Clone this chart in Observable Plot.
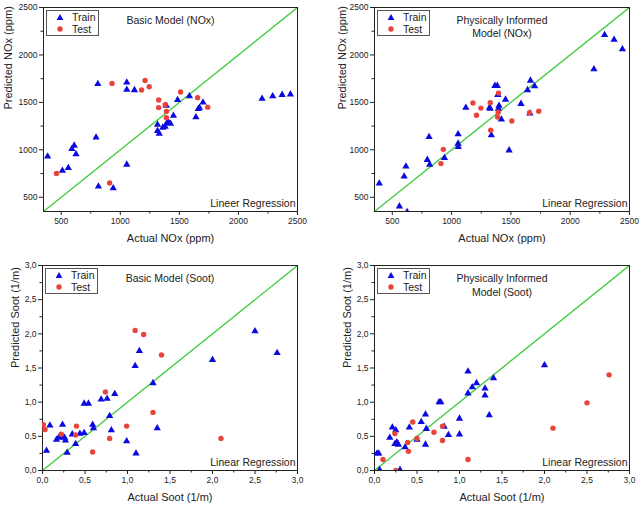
<!DOCTYPE html>
<html><head><meta charset="utf-8">
<script src="https://cdn.jsdelivr.net/npm/d3@7"></script>
<script src="https://cdn.jsdelivr.net/npm/@observablehq/plot@0.6"></script>
<style>
body{margin:0;background:#fff;font-family:"Liberation Sans",Arial,sans-serif;}
#wrap{position:relative;width:640px;height:505px;overflow:hidden;background:#fff;}
.panel{position:absolute;}
.legend{position:absolute;border:1px solid #555;background:#fff;box-sizing:border-box;}
</style></head><body><div id="wrap"></div>
<script>
// ---- data: [actual, predicted] pairs ----
const basicNoxTrain = [[385,930],[510,780],[560,810],[590,1010],[610,1045],[625,955],[795,1130],[810,1695],[815,615],[940,595],[1055,1710],[1055,1633],[1055,845],[1120,1630],[1315,1265],[1315,1200],[1330,1170],[1360,1235],[1380,1245],[1390,1465],[1395,1285],[1410,1285],[1425,1275],[1450,1360],[1485,1525],[1585,1565],[1640,1345],[1660,1430],[1670,1445],[1700,1500],[2200,1540],[2290,1565],[2370,1580],[2440,1585]];
const basicNoxTest = [[460,750],[910,650],[930,1700],[1180,1630],[1210,1730],[1245,1665],[1325,1525],[1325,1445],[1380,1475],[1390,1405],[1390,1338],[1510,1610],[1655,1550],[1740,1450]];
const physNoxTrain = [[390,645],[560,405],[625,345],[600,720],[615,825],[795,895],[810,1135],[815,845],[940,915],[1055,1165],[1055,1066],[1057,1031],[1120,1445],[1320,1445],[1325,1435],[1335,1155],[1365,1675],[1385,1675],[1390,1580],[1395,1435],[1400,1465],[1420,1320],[1455,1530],[1485,995],[1585,1485],[1640,1630],[1665,1730],[1660,1385],[1700,1670],[2200,1850],[2290,2210],[2370,2160],[2440,2060]];
const physNoxTest = [[910,855],[930,1005],[1180,1493],[1210,1364],[1247,1440],[1326,1497],[1330,1206],[1388,1346],[1393,1397],[1396,1598],[1508,1304],[1657,1392],[1735,1406]];
const basicSootTrain = [[0.047,0.29],[0.087,0.66],[0.165,0.45],[0.19,0.48],[0.22,0.49],[0.24,0.50],[0.26,0.48],[0.27,0.44],[0.236,0.67],[0.29,0.26],[0.35,0.53],[0.39,0.39],[0.44,0.54],[0.49,0.55],[0.49,0.98],[0.54,0.98],[0.59,0.67],[0.60,0.62],[0.69,1.04],[0.76,1.05],[0.79,0.80],[0.81,0.59],[0.85,1.12],[0.99,0.43],[1.09,1.53],[1.10,0.25],[1.14,1.75],[1.30,1.28],[1.35,0.62],[2.0,1.62],[2.50,2.04],[2.76,1.72]];
const basicSootTest = [[0.01,0.67],[0.03,0.60],[0.22,0.53],[0.39,0.52],[0.40,0.65],[0.59,0.27],[0.74,1.15],[0.79,0.47],[0.99,0.65],[1.09,2.05],[1.19,1.99],[1.30,0.85],[1.40,1.69],[2.10,0.47]];
const physSootTrain = [[0.03,0.25],[0.05,0.25],[0.06,0.01],[0.18,0.48],[0.21,0.63],[0.25,0.59],[0.24,0.39],[0.26,0.41],[0.27,0.40],[0.28,0.38],[0.30,0.01],[0.36,0.34],[0.41,0.63],[0.50,0.45],[0.55,0.71],[0.60,0.82],[0.61,0.61],[0.60,0.38],[0.76,1.00],[0.78,1.00],[0.82,0.64],[0.87,0.52],[1.0,0.76],[1.0,0.53],[1.10,1.45],[1.10,1.13],[1.15,1.22],[1.20,1.28],[1.30,1.20],[1.30,1.10],[1.35,0.81],[1.40,1.35],[2.0,1.54]];
const physSootTest = [[0.10,0.16],[0.24,0.54],[0.25,0.0],[0.39,0.41],[0.40,0.28],[0.45,0.71],[0.50,0.47],[0.70,0.56],[0.80,0.65],[0.80,0.44],[1.10,0.16],[2.10,0.62],[2.50,0.99],[2.76,1.40]];

const noxDomain = [350, 2500];
const noxTicks = [500, 1000, 1500, 2000, 2500];
const noxMinor = [750, 1250, 1750, 2250];
const sootDomain = [0, 3];
const sootTicks = [0, 0.5, 1, 1.5, 2, 2.5, 3];
const sootMinor = [0.25, 0.75, 1.25, 1.75, 2.25, 2.75];

const titles = ["Basic Model (NOx)", "Physically Informed\nModel (NOx)", "Basic Model (Soot)", "Physically Informed\nModel (Soot)"];
const notes = ["Lineer Regression", "Linear Regression", "Linear Regression", "Linear Regression"];
const xLabels = ["Actual NOx (ppm)", "Actual NOx (ppm)", "Actual Soot (1/m)", "Actual Soot (1/m)"];
const yLabels = ["Predicted NOx (ppm)", "Predicted NOx (ppm)", "Predicted Soot (1/m)", "Predicted Soot (1/m)"];
const seriesNames = ["Train", "Test"];

// ---- style ----
const FONT = '"Liberation Sans", Arial, sans-serif';
const BLUE = "#0a0ae0", RED = "#e8443c", GREEN = "#3fcc3f";
const noxFmt = d => String(d);
const sootFmt = d => d3.format(".1f")(d).replace(".", ",");

const panels = [
  {left:0, top:0, w:320, h:250, ml:43, mr:23, mt:7, mb:39, domain:noxDomain, major:noxTicks, minor:noxMinor, fmt:noxFmt, train:basicNoxTrain, test:basicNoxTest, titleDy:12, yDx:-35, xDy:27},
  {left:320, top:0, w:320, h:250, ml:54, mr:11, mt:7, mb:39, domain:noxDomain, major:noxTicks, minor:noxMinor, fmt:noxFmt, train:physNoxTrain, test:physNoxTest, titleDy:18.5, yDx:-32.5, xDy:27},
  {left:0, top:250, w:320, h:255, ml:42, mr:23, mt:15, mb:35, domain:sootDomain, major:sootTicks, minor:sootMinor, fmt:sootFmt, train:basicSootTrain, test:basicSootTest, titleDy:12, yDx:-27, xDy:27},
  {left:320, top:250, w:320, h:255, ml:54, mr:11, mt:15, mb:35, domain:sootDomain, major:sootTicks, minor:sootMinor, fmt:sootFmt, train:physSootTrain, test:physSootTest, titleDy:19, yDx:-27, xDy:27}
];

const wrap = document.getElementById("wrap");
panels.forEach((c, i) => {
  const div = document.createElement("div");
  div.className = "panel";
  div.style.left = c.left + "px";
  div.style.top = c.top + "px";
  const svg = Plot.plot({
    width: c.w, height: c.h,
    marginLeft: c.ml, marginRight: c.mr, marginTop: c.mt, marginBottom: c.mb,
    x: {domain: c.domain},
    y: {domain: c.domain},
    style: {fontFamily: FONT, fontSize: "8.5px", background: "white", color: "#222", overflow: "visible"},
    marks: [
      Plot.line(c.domain, {x: d => d, y: d => d, stroke: GREEN, strokeWidth: 1.3, clip: true}),
      Plot.axisX({ticks: c.major, tickSize: 4, tickPadding: 2, tickFormat: c.fmt, label: null}),
      Plot.axisX({ticks: c.minor, tickSize: 2.5, tickFormat: () => "", label: null}),
      Plot.axisY({ticks: c.major, tickSize: 4, tickPadding: 2, tickFormat: c.fmt, label: null}),
      Plot.axisY({ticks: c.minor, tickSize: 2.5, tickFormat: () => "", label: null}),
      Plot.frame({stroke: "#222"}),
      Plot.dot(c.train, {x: d => d[0], y: d => d[1], symbol: "triangle", fill: BLUE, r: 2.7, clip: true}),
      Plot.dot(c.test, {x: d => d[0], y: d => d[1], fill: RED, r: 2.7, clip: true}),
      Plot.text([titles[i]], {text: d => d, frameAnchor: "top", dy: c.titleDy, lineAnchor: "middle", lineHeight: 1.3, fontSize: 10.5, fill: "#222"}),
      Plot.text([notes[i]], {text: d => d, frameAnchor: "bottom-right", textAnchor: "end", lineAnchor: "middle", dx: -2, dy: -8, fontSize: 10.5, fill: "#222"}),
      Plot.text([xLabels[i]], {text: d => d, frameAnchor: "bottom", dy: c.xDy, lineAnchor: "middle", fontSize: 11, fill: "#222"}),
      Plot.text([yLabels[i]], {text: d => d, frameAnchor: "left", dx: c.yDx, rotate: -90, lineAnchor: "middle", fontSize: 11, fill: "#222"})
    ]
  });
  div.appendChild(svg);
  // legend box inside the plot frame
  const lg = document.createElement("div");
  lg.className = "legend";
  lg.style.left = (c.ml + 3) + "px";
  lg.style.top = (c.mt + 3) + "px";
  lg.style.width = "53px";
  lg.style.height = "26px";
  lg.innerHTML = `<svg width="51" height="24" style="display:block;overflow:visible;font-family:${FONT.replace(/"/g,"'")};font-size:10.5px;fill:#222">
    <polygon points="13,3 16.4,8.9 9.6,8.9" fill="${BLUE}"/>
    <text x="25" y="6.5" dy="0.35em">${seriesNames[0]}</text>
    <circle cx="13" cy="18" r="2.7" fill="${RED}"/>
    <text x="25" y="18" dy="0.35em">${seriesNames[1]}</text>
  </svg>`;
  div.appendChild(lg);
  wrap.appendChild(div);
});
</script>
</body></html>
